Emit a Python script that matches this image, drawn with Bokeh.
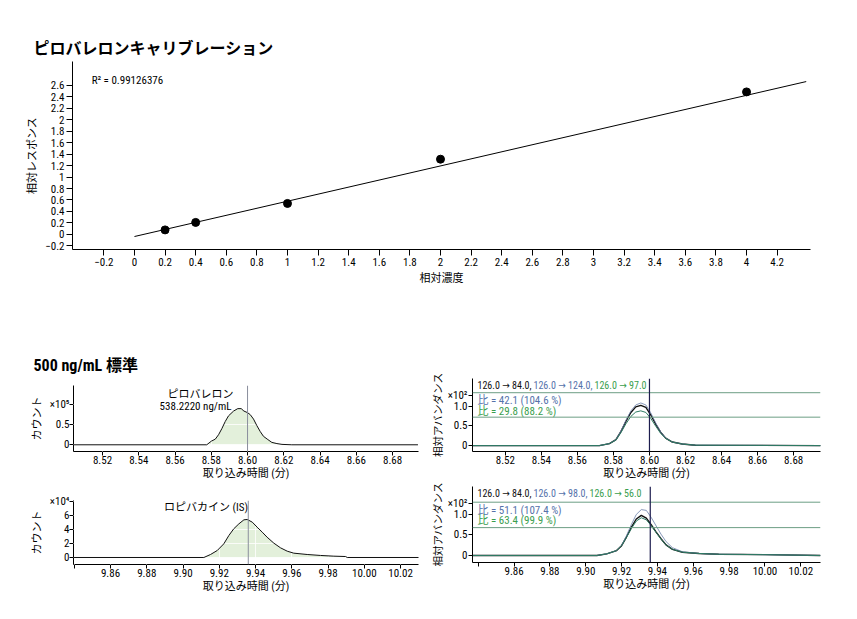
from bokeh.plotting import figure
from bokeh.layouts import column, row
from bokeh.models import Label, Span, FixedTicker
from bokeh.embed import file_html
from bokeh.resources import INLINE

FONT = "'Liberation Sans Narrow', 'Roboto Condensed', 'DejaVu Sans Condensed', 'Liberation Sans', 'Noto Sans CJK JP', sans-serif"
TFONT = "'Noto Sans CJK JP', sans-serif"

# ---------------- calibration data ----------------
cal_conc = [0.2, 0.4, 1.0, 2.0, 4.0]
cal_resp = [0.08, 0.21, 0.54, 1.31, 2.48]
fit_conc = [0.0, 4.39]
fit_resp = [-0.035, 2.66]
cal_r2 = "R² = 0.99126376"
cal_xticks = [-0.2, 0, 0.2, 0.4, 0.6, 0.8, 1, 1.2, 1.4, 1.6, 1.8, 2, 2.2, 2.4, 2.6, 2.8, 3, 3.2, 3.4, 3.6, 3.8, 4, 4.2]
cal_xlabels = ["−0.2", "0", "0.2", "0.4", "0.6", "0.8", "1", "1.2", "1.4", "1.6", "1.8", "2", "2.2", "2.4",
               "2.6", "2.8", "3", "3.2", "3.4", "3.6", "3.8", "4", "4.2"]
cal_yticks = [-0.2, 0, 0.2, 0.4, 0.6, 0.8, 1, 1.2, 1.4, 1.6, 1.8, 2, 2.2, 2.4, 2.6]
cal_ylabels = ["−0.2", "0", "0.2", "0.4", "0.6", "0.8", "1", "1.2", "1.4", "1.6", "1.8", "2", "2.2", "2.4", "2.6"]

# ---------------- pyrovalerone (counts x10^5) ----------------
pyro_t = [8.504, 8.5775, 8.580, 8.5822, 8.584, 8.5858, 8.5877, 8.5895, 8.5923, 8.5946, 8.5965, 8.598, 8.600,
          8.6015, 8.6033, 8.6051, 8.607, 8.6088, 8.6112, 8.6134, 8.6162, 8.619, 8.6244, 8.694]
pyro_counts = [0, 0, 0.09, 0.14, 0.25, 0.40, 0.58, 0.72, 0.84, 0.90, 0.90, 0.84, 0.80,
               0.75, 0.64, 0.48, 0.33, 0.21, 0.13, 0.06, 0.03, 0.01, 0, 0]
pyro_rt = 8.600
pyro_name = "ピロバレロン"
pyro_conc = "538.2220 ng/mL"

# ---------------- ropivacaine IS (counts x10^4) ----------------
ropi_t = [9.8396, 9.9115, 9.9152, 9.9189, 9.9225, 9.9253, 9.928, 9.9308, 9.9336, 9.9354, 9.9382, 9.9409,
          9.9437, 9.9464, 9.9501, 9.9538, 9.9575, 9.9611, 9.9685, 9.9759, 9.9832, 9.9897, 9.9906, 10.0299]
ropi_counts = [0, 0, 0.43, 1.0, 1.95, 3.14, 4.1, 4.8, 5.38, 5.43, 5.05, 4.33,
               3.62, 2.9, 2.05, 1.38, 0.9, 0.62, 0.43, 0.29, 0.19, 0.14, 0, 0]
ropi_rt = 9.936
ropi_name = "ロピバカイン (IS)"

# ---------------- qualifier traces (relative abundance x10^2) ----------------
pyro_q_t = [8.502, 8.5722, 8.5778, 8.5814, 8.5842, 8.5869, 8.5897, 8.5924, 8.5952, 8.598, 8.6007, 8.6035,
            8.6062, 8.609, 8.6127, 8.6182, 8.6255, 8.695]
pyro_q_quant = [0, 0, 0.05, 0.15, 0.36, 0.61, 0.84, 0.98, 1.02, 0.97, 0.78, 0.54, 0.34, 0.19, 0.09, 0.04, 0.01, 0]
pyro_q_q1 = [0, 0, 0.05, 0.15, 0.37, 0.64, 0.88, 1.03, 1.08, 1.03, 0.83, 0.57, 0.35, 0.19, 0.09, 0.04, 0.01, 0]
pyro_q_q2 = [0, 0, 0.05, 0.14, 0.33, 0.55, 0.74, 0.85, 0.88, 0.84, 0.69, 0.49, 0.31, 0.18, 0.09, 0.04, 0.01, 0]
pyro_trans = ["126.0 → 84.0,", "126.0 → 124.0,", "126.0 → 97.0"]
pyro_ratios = ["比 = 42.1 (104.6 %)", "比 = 29.8 (88.2 %)"]
pyro_bounds = [1.34, 0.72]

ropi_q_t = [9.8368, 9.9062, 9.9117, 9.9172, 9.92, 9.9227, 9.9255, 9.9282, 9.931, 9.9338, 9.9365, 9.9393,
            9.942, 9.9448, 9.9484, 9.954, 9.9632, 9.9742, 10.000, 10.031]
ropi_q_quant = [0, 0, 0.04, 0.12, 0.24, 0.45, 0.69, 0.89, 0.98, 0.91, 0.75, 0.57, 0.41, 0.26, 0.15, 0.08, 0.05, 0.03, 0.02, 0]
ropi_q_q1 = [0, 0, 0.04, 0.12, 0.25, 0.48, 0.76, 1.00, 1.12, 1.10, 0.93, 0.72, 0.52, 0.34, 0.19, 0.09, 0.05, 0.03, 0.02, 0]
ropi_q_q2 = [0, 0, 0.04, 0.12, 0.24, 0.44, 0.66, 0.84, 0.92, 0.87, 0.73, 0.56, 0.40, 0.26, 0.15, 0.08, 0.05, 0.03, 0.02, 0]
ropi_trans = ["126.0 → 84.0,", "126.0 → 98.0,", "126.0 → 56.0"]
ropi_ratios = ["比 = 51.1 (107.4 %)", "比 = 63.4 (99.9 %)"]
ropi_bounds = [1.30, 0.68]

# ---------------- ticks ----------------
pyro_xticks = [8.52, 8.54, 8.56, 8.58, 8.60, 8.62, 8.64, 8.66, 8.68]
pyro_xlabels = ["8.52", "8.54", "8.56", "8.58", "8.60", "8.62", "8.64", "8.66", "8.68"]
ropi_xticks = [9.84, 9.86, 9.88, 9.90, 9.92, 9.94, 9.96, 9.98, 10.00, 10.02]
ropi_xlabels = ["", "9.86", "9.88", "9.90", "9.92", "9.94", "9.96", "9.98", "10.00", "10.02"]
pyro_cnt_ticks = [0, 0.5, 1.0]
pyro_cnt_labels = ["0", "0.5", "×10⁵"]
ropi_cnt_ticks = [0, 2, 4, 6, 8]
ropi_cnt_labels = ["0", "2", "4", "6", "×10⁴"]
pyro_ab_ticks = [0, 0.5, 1.0, 1.28]
ropi_ab_ticks = [0, 0.5, 1.0, 1.27]
abund_labels = ["0", "0.5", "1.0", "×10²"]

TITLE1 = "ピロバレロンキャリブレーション"
TITLE2 = "500 ng/mL 標準"
XLAB = "取り込み時間 (分)"

FILL = "#e3f0db"
BLUE = "#5572aa"
GREEN = "#3a9e4e"
BOUND = "#6c9e84"
QBLUE = "#6a7fa8"
QGREEN = "#2d7a62"
NAVY = "#1d1d4e"
GRAYLINE = "#8a8e9c"


def base_fig(w, h, xr, yr, bl, br, bt, bb):
    p = figure(width=w, height=h, x_range=xr, y_range=yr, output_backend="svg",
               toolbar_location=None, min_border_left=bl, min_border_right=br,
               min_border_top=bt, min_border_bottom=bb)
    p.outline_line_color = None
    p.xgrid.visible = False
    p.ygrid.visible = False
    return p


def style_axes(p, xticks, xlabels, yticks, ylabels, xlabel, ylabel, tick_out=4,
               lab_standoff=1, axlab_standoff=0, size="11px", ylab_size="11px"):
    for ax, ticks, labels, lab in ((p.xaxis[0], xticks, xlabels, xlabel),
                                   (p.yaxis[0], yticks, ylabels, ylabel)):
        ax.ticker = FixedTicker(ticks=ticks)
        ax.major_label_overrides = dict(zip(ticks, labels))
        ax.axis_line_color = "black"
        ax.axis_line_width = 1
        ax.major_tick_line_color = "black"
        ax.minor_tick_line_color = None
        ax.major_tick_in = 0
        ax.major_tick_out = tick_out
        ax.major_label_standoff = lab_standoff
        ax.major_label_text_font = FONT
        ax.major_label_text_font_size = size
        ax.major_label_text_color = "black"
        ax.axis_label = lab
        ax.axis_label_text_font = FONT
        ax.axis_label_text_font_size = "11px"
        ax.axis_label_text_font_style = "normal"
        ax.axis_label_text_color = "black"
        ax.axis_label_standoff = axlab_standoff
    p.yaxis[0].axis_label_text_font_size = ylab_size


def txt(p, x, y, text, color="black", size="11px", align="left", x_offset=0):
    p.add_layout(Label(x=x, y=y, text=text, text_color=color, text_font_size=size,
                       text_align=align, text_baseline="middle", x_offset=x_offset,
                       text_font=FONT))


# ================= calibration =================
pA = base_fig(857, 300, (-0.405, 4.418), (-0.261, 3.009), 72, 47, 61, 51)
pA.title.text = TITLE1
pA.title.text_font = TFONT
pA.title.text_font_size = "16px"
pA.title.text_font_style = "bold"
pA.title.text_color = "black"
pA.title.align = "left"
pA.title.offset = -39
pA.title.standoff = 6
style_axes(pA, cal_xticks, cal_xlabels, cal_yticks, cal_ylabels, "相対濃度", "相対レスポンス",
           tick_out=6, lab_standoff=2, axlab_standoff=3)
pA.line(fit_conc, fit_resp, line_color="black", line_width=1)
pA.scatter(cal_conc, cal_resp, size=8, color="black")
txt(pA, -0.28, 2.68, cal_r2, size="11px")


# ================= left chromatograms =================
def left_panel(h, xr, yr, bt, bb, t, c, rt, xticks, xlabels, yticks, ylabels):
    p = base_fig(428, h, xr, yr, 73, 10, bt, bb)
    style_axes(p, xticks, xlabels, yticks, ylabels, XLAB, "カウント", lab_standoff=0, axlab_standoff=0)
    p.yaxis[0].axis_label_standoff = 3
    p.varea(x=t, y1=0, y2=c, fill_color=FILL)
    p.xgrid.visible = True
    p.ygrid.visible = True
    p.xgrid[0].ticker = FixedTicker(ticks=xticks)
    p.ygrid[0].ticker = FixedTicker(ticks=yticks)
    for g in (p.xgrid[0], p.ygrid[0]):
        g.grid_line_color = "white"
        g.grid_line_alpha = 0.8
        g.level = "guide"
    ln = p.line(t, c, line_color="#111111", line_width=1)
    ln.level = "annotation"
    p.add_layout(Span(location=rt, dimension="height", line_color=GRAYLINE, line_width=1))
    return p


p1 = left_panel(182, (8.504, 8.6943), (-0.167, 1.476), 85, 28, pyro_t, pyro_counts, pyro_rt,
                pyro_xticks, pyro_xlabels, pyro_cnt_ticks, pyro_cnt_labels)
p1.title.text = TITLE2
p1.title.text_font = FONT
p1.title.text_font_size = "16px"
p1.title.text_font_style = "bold"
p1.title.text_color = "black"
p1.title.align = "left"
p1.title.offset = -40
p1.title.standoff = 21
txt(p1, 8.5741, 1.262, pyro_name, align="center")
txt(p1, 8.5713, 0.952, pyro_conc, align="center")

p3 = left_panel(133, (9.8396, 10.0299), (-1.0, 8.14), 18, 51, ropi_t, ropi_counts, ropi_rt,
                ropi_xticks, ropi_xlabels, ropi_cnt_ticks, ropi_cnt_labels)
txt(p3, 9.9127, 7.19, ropi_name, align="center")


# ================= right qualifier panels =================
def right_panel(h, xr, yr, bt, bb, br, t, quant, q1, q2, rt, xticks, xlabels, yticks, bounds, trans,
                trans_off, ratios, y_head, y_r1, y_r2):
    p = base_fig(429, h, xr, yr, 42, br, bt, bb)
    style_axes(p, xticks, xlabels, yticks, abund_labels, XLAB, "相対アバンダンス", lab_standoff=0,
               axlab_standoff=0, ylab_size="10.5px")
    p.yaxis[0].axis_label_standoff = 0
    p.yaxis[0].major_label_standoff = 1
    for b in bounds:
        p.add_layout(Span(location=b, dimension="width", line_color=BOUND, line_width=1))
    p.line(t, quant, line_color="#111111", line_width=1.4)
    p.line(t, q1, line_color=QBLUE, line_width=0.8)
    p.line(t, q2, line_color=QGREEN, line_width=1.0)
    p.add_layout(Span(location=rt, dimension="height", line_color=NAVY, line_width=1.2))
    cols = ["#111111", BLUE, GREEN]
    for s, col, off in zip(trans, cols, trans_off):
        txt(p, xr[0], y_head, s, color=col, size="10px", x_offset=off)
    txt(p, xr[0], y_r1, ratios[0], color=BLUE, size="11px", x_offset=5)
    txt(p, xr[0], y_r2, ratios[1], color=GREEN, size="11px", x_offset=5)
    return p


p2 = right_panel(182, (8.5018, 8.6949), (-0.15, 1.70), 78, 30, 37, pyro_q_t, pyro_q_quant, pyro_q_q1,
                 pyro_q_q2, pyro_rt, pyro_xticks, pyro_xlabels, pyro_ab_ticks, pyro_bounds, pyro_trans,
                 [5, 61, 122], pyro_ratios, 1.525, 1.13, 0.86)
p4 = right_panel(133, (9.8368, 10.031), (-0.171, 1.683), 4, 53, 35, ropi_q_t, ropi_q_quant, ropi_q_q1,
                 ropi_q_q2, ropi_rt, ropi_xticks, ropi_xlabels, ropi_ab_ticks, ropi_bounds, ropi_trans,
                 [5, 61, 117], ropi_ratios, 1.51, 1.10, 0.85)

layout = column(pA, row(column(p1, p3), column(p2, p4)))

open("out.html", "w").write(file_html(layout, INLINE))
